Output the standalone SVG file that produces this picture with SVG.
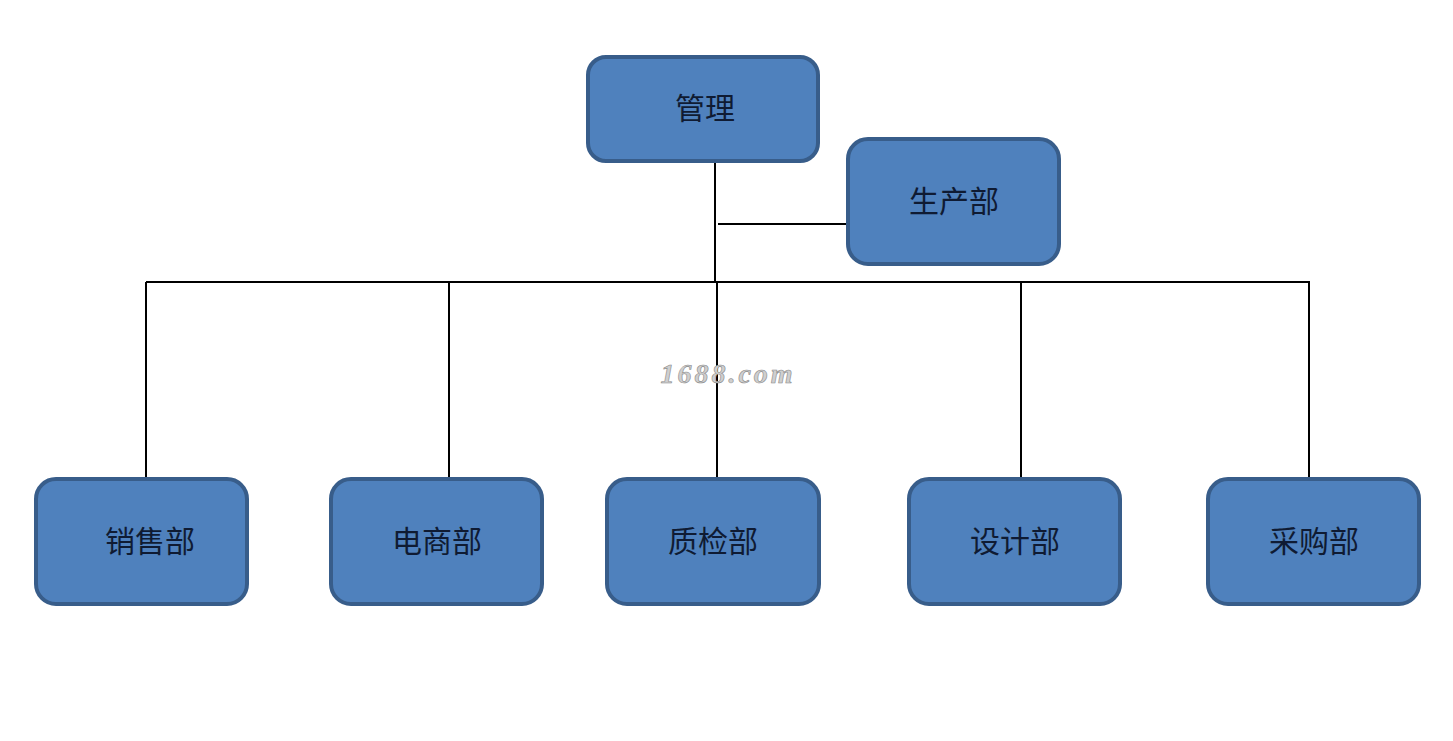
<svg xmlns="http://www.w3.org/2000/svg" width="1453" height="741" viewBox="0 0 1453 741">
<style>
.box{fill:#4f81bd;stroke:#385d8a;stroke-width:4}
.lbl{font-family:"Liberation Serif","Noto Sans CJK SC",serif;font-size:30px;fill:#0f1b33;text-anchor:middle;dominant-baseline:central}
.ln{stroke:#000;stroke-width:2;fill:none}
.wm{font-family:"Liberation Serif",serif;font-style:italic;font-weight:bold;font-size:28px;fill:#cfcfcf;stroke:#8a8a8a;stroke-width:0.6;text-anchor:middle;dominant-baseline:central;letter-spacing:3px}
</style>
<rect width="1453" height="741" fill="#ffffff"/>
<g id="connectors">
<line class="ln" x1="715" y1="161" x2="715" y2="282"/>
<line class="ln" x1="718" y1="224" x2="849" y2="224"/>
<line class="ln" x1="146" y1="282" x2="1310" y2="282"/>
<line class="ln" x1="146" y1="282" x2="146" y2="479"/>
<line class="ln" x1="449" y1="282" x2="449" y2="479"/>
<line class="ln" x1="717" y1="282" x2="717" y2="479"/>
<line class="ln" x1="1021" y1="282" x2="1021" y2="479"/>
<line class="ln" x1="1309" y1="282" x2="1309" y2="479"/>
</g>
<text class="wm" x="728" y="373">1688.com</text>
<g id="node-guanli">
<rect class="box" x="588" y="57" width="230" height="104" rx="18"/>
<text class="lbl" x="705" y="108">管理</text>
</g>
<g id="node-shengchan">
<rect class="box" x="848" y="139" width="211" height="125" rx="20"/>
<text class="lbl" x="954" y="201">生产部</text>
</g>
<g id="node-xiaoshou">
<rect class="box" x="36" y="479" width="211" height="125" rx="20"/>
<text class="lbl" x="150" y="541">销售部</text>
</g>
<g id="node-dianshang">
<rect class="box" x="331" y="479" width="211" height="125" rx="20"/>
<text class="lbl" x="437" y="541">电商部</text>
</g>
<g id="node-zhijian">
<rect class="box" x="607" y="479" width="212" height="125" rx="20"/>
<text class="lbl" x="713" y="541">质检部</text>
</g>
<g id="node-sheji">
<rect class="box" x="909" y="479" width="211" height="125" rx="20"/>
<text class="lbl" x="1015" y="541">设计部</text>
</g>
<g id="node-caigou">
<rect class="box" x="1208" y="479" width="211" height="125" rx="20"/>
<text class="lbl" x="1314" y="541">采购部</text>
</g>
</svg>
